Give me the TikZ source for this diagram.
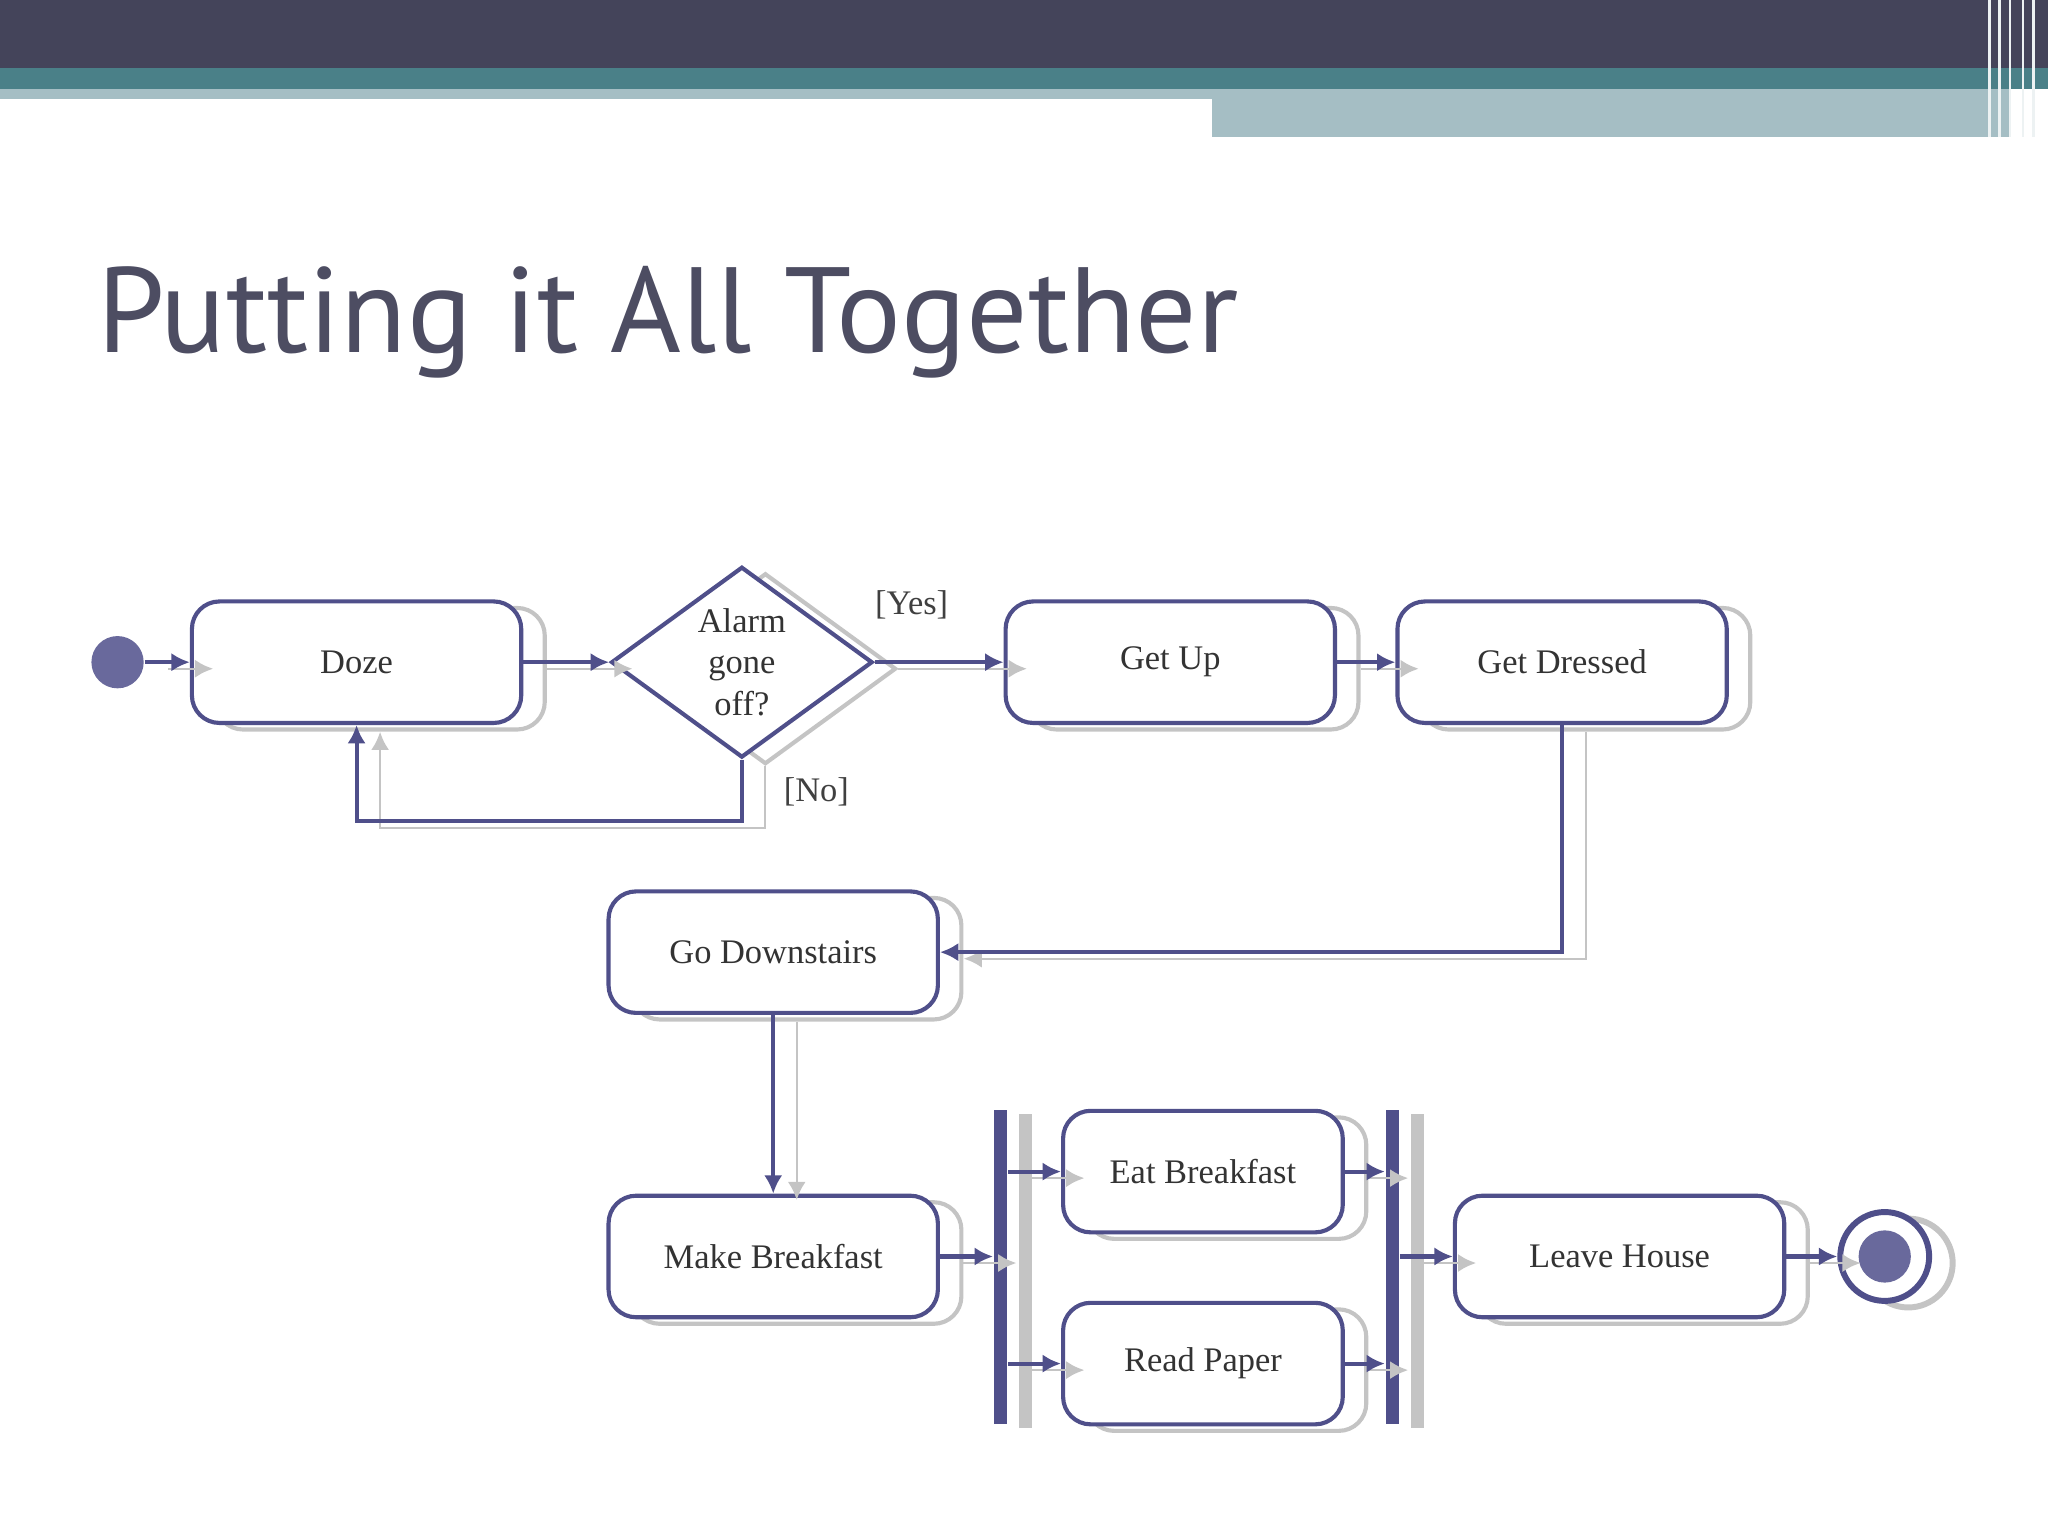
\documentclass[tikz,border=0pt]{standalone}
\usepackage{fontspec}
\setmainfont{Liberation Serif}
\newfontfamily\titlefont{PT Sans}
\usetikzlibrary{arrows.meta,shapes.geometric,shadows}
\definecolor{ink}{HTML}{4F4F8A}
\definecolor{shade}{HTML}{C4C4C4}
\definecolor{barDark}{HTML}{44445A}
\definecolor{barTeal}{HTML}{4A8088}
\definecolor{barLight}{HTML}{A5BEC4}
\tikzset{
  act/.style={draw=ink, line width=0.9pt, rounded corners=6pt, fill=white, text=black!80,
    minimum width=2.52cm, minimum height=0.93cm, font=\fontsize{7.5}{9}\selectfont,
    copy shadow={shadow xshift=0.18cm, shadow yshift=-0.05cm, draw=shade, fill=white}},
  dec/.style={diamond, draw=ink, line width=0.9pt, fill=white, aspect=1.37, inner sep=0pt, text=black!80,
    minimum width=2cm, minimum height=1.46cm, align=center, font=\fontsize{7.5}{9}\selectfont,
    copy shadow={shadow xshift=0.18cm, shadow yshift=-0.05cm, draw=shade, fill=white}},
  bar/.style={fill=ink, draw=none, minimum width=0.1cm, minimum height=2.4cm, inner sep=0pt,
    copy shadow={shadow xshift=0.19cm, shadow yshift=-0.03cm, fill=shade, draw=none}},
  conn/.style={draw=ink, line width=0.9pt, -{Latex[length=4pt,width=4pt]},
    preaction={draw=shade, transform canvas={shift={(0.18cm,-0.05cm)}}}},
  lbl/.style={font=\fontsize{7.5}{9}\selectfont, text=black!75}
}
\begin{document}
\begin{tikzpicture}[x=0.01cm,y=-0.01cm]
\useasboundingbox (0,0) rectangle (1568,1176);
% header bands
\fill[barLight] (928,68) rectangle (1540,105);
\fill[barLight] (0,68) rectangle (928,76);
\fill[barTeal] (0,52) rectangle (1568,68);
\fill[barDark] (0,0) rectangle (1568,52);
\foreach \xx in {1522,1530,1538,1548,1556}
  \fill[white!80!barLight] (\xx,0) rectangle ++(2,105);
\node[anchor=base west, font=\titlefont\fontsize{26.4}{30}\selectfont, text=barDark!95] (title) at (62,270) {Putting it All Together};
% diagram
\node[circle, fill=ink!85, minimum size=0.4cm, inner sep=0pt] (start) at (90,507) {};
\node[act] (doze) at (273,507) {Doze};
\node[dec] (alarm) at (568,507) {Alarm\\gone\\off?};
\node[act] (getup) at (896,507) {Get Up};
\node[act] (dressed) at (1196,507) {Get Dressed};
\node[act] (down) at (592,729) {Go Downstairs};
\node[act] (make) at (592,962) {Make Breakfast};
\node[bar] (fork) at (766,970) {};
\node[act, minimum width=2.14cm] (eat) at (921,897) {Eat Breakfast};
\node[act, minimum width=2.14cm] (read) at (921,1044) {Read Paper};
\node[bar] (join) at (1066,970) {};
\node[act] (leave) at (1240,962) {Leave House};
\node[circle, draw=ink, line width=1.3pt, minimum size=0.68cm, inner sep=0pt,
  copy shadow={shadow xshift=0.18cm, shadow yshift=-0.05cm, draw=shade, fill=white}, fill=white] (stop) at (1443,962) {};
\fill[ink!85] (stop) circle (20);
\node[lbl] (yes) at (698,463) {[Yes]};
\node[lbl] (no) at (625,606) {[No]};
% flows
\draw[conn] (start) -- (doze);
\draw[conn] (doze) -- (alarm);
\draw[conn] (alarm) -- (getup);
\draw[conn] (alarm.south) -- ++(0,47) -| (doze.south);
\draw[conn] (getup) -- (dressed);
\draw[conn] (dressed.south) |- (down.east);
\draw[conn] (down) -- (make);
\draw[conn] (make.east) -- (make.east -| fork.west);
\draw[conn] (fork.east |- eat.west) -- (eat.west);
\draw[conn] (fork.east |- read.west) -- (read.west);
\draw[conn] (eat.east) -- (eat.east -| join.west);
\draw[conn] (read.east) -- (read.east -| join.west);
\draw[conn] (join.east |- leave.west) -- (leave.west);
\draw[conn] (leave) -- (stop);
\end{tikzpicture}
\end{document}
